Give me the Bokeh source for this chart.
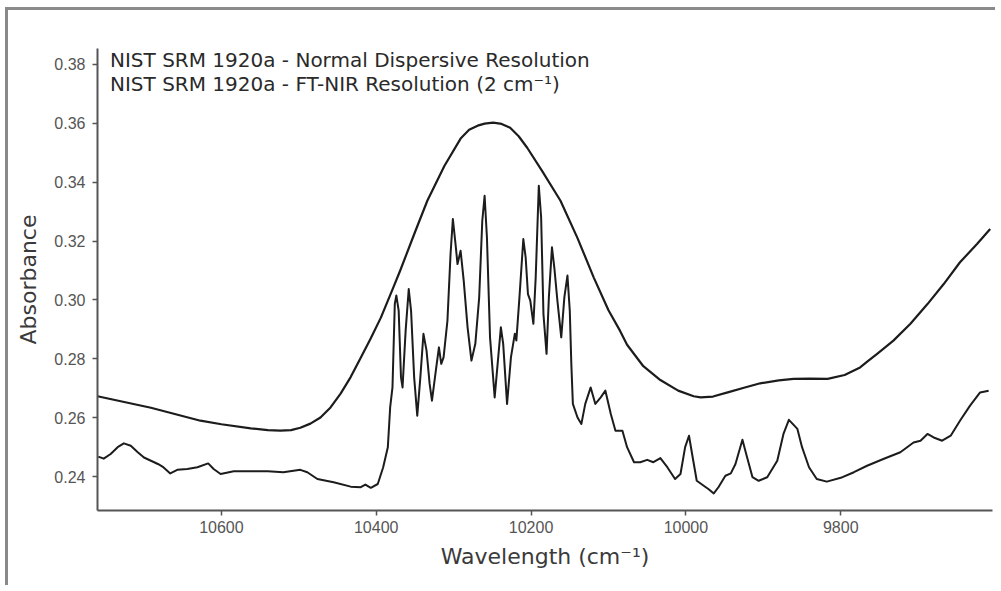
from bokeh.plotting import figure
from bokeh.models import Range1d, FixedTicker, Legend, LegendItem, NumeralTickFormatter
from bokeh.embed import file_html
from bokeh.resources import INLINE

# Normal dispersive resolution (smooth) spectrum
disp_wn = [10760, 10691, 10627, 10600, 10562, 10540, 10524, 10510, 10498, 10485,
           10472, 10459, 10446, 10433, 10420, 10407, 10394, 10378, 10369, 10350,
           10334, 10312, 10291, 10280, 10269, 10260, 10249, 10238, 10227, 10216,
           10205, 10185, 10162, 10140, 10119, 10100, 10085, 10076, 10055, 10033,
           10010, 9990, 9981, 9965, 9946, 9925, 9904, 9880, 9861, 9840,
           9817, 9795, 9775, 9765, 9753, 9732, 9710, 9688, 9667, 9646,
           9624, 9607]
disp_abs = [0.2673, 0.2634, 0.2590, 0.2578, 0.2564, 0.2558, 0.2556, 0.2558, 0.2566, 0.2580,
            0.2601, 0.2635, 0.2682, 0.2738, 0.2804, 0.2870, 0.2940, 0.3042, 0.3100, 0.3230,
            0.3337, 0.3455, 0.3548, 0.3578, 0.3592, 0.3599, 0.3602, 0.3598, 0.3585, 0.3556,
            0.3517, 0.3435, 0.3337, 0.3210, 0.3076, 0.2965, 0.2895, 0.2848, 0.2775, 0.2728,
            0.2692, 0.2673, 0.2669, 0.2672, 0.2686, 0.2702, 0.2717, 0.2727, 0.2732, 0.2733,
            0.2732, 0.2745, 0.2771, 0.2792, 0.2817, 0.2862, 0.2919, 0.2986, 0.3054, 0.3128,
            0.3190, 0.3241]

# FT-NIR resolution (2 cm-1) spectrum
ft_wn = [10759, 10752, 10743, 10734, 10726, 10717, 10708, 10700, 10691, 10682,
         10675, 10666, 10657, 10644, 10631, 10617, 10610, 10601, 10584, 10562,
         10540, 10520, 10498, 10489, 10476, 10455, 10433, 10420, 10414, 10407,
         10398, 10391, 10385, 10382, 10379, 10376, 10374, 10371, 10368, 10366,
         10362, 10358, 10355, 10351, 10347, 10343, 10339, 10335, 10331, 10328,
         10323, 10319, 10316, 10313, 10308, 10304, 10301, 10298, 10295, 10291,
         10287, 10282, 10277, 10272, 10267, 10263, 10260, 10257, 10253, 10247,
         10239, 10236, 10231, 10226, 10221, 10219, 10215, 10210, 10207, 10204,
         10201, 10197, 10194, 10190, 10187, 10184, 10180, 10177, 10173, 10170,
         10166, 10161, 10157, 10153, 10150, 10148, 10146, 10140, 10135, 10130,
         10123, 10117, 10110, 10104, 10097, 10091, 10082, 10076, 10067, 10059,
         10050, 10042, 10033, 10024, 10014, 10007, 10001, 9996, 9992, 9986,
         9977, 9971, 9964, 9958, 9949, 9942, 9936, 9927, 9921, 9914,
         9906, 9895, 9882, 9874, 9867, 9856, 9850, 9841, 9831, 9818,
         9800, 9783, 9766, 9745, 9723, 9706, 9697, 9688, 9680, 9669,
         9658, 9646, 9633, 9620, 9609]
ft_abs = [0.2468, 0.2461, 0.2477, 0.2500, 0.2513, 0.2505, 0.2483, 0.2465, 0.2454, 0.2443,
          0.2432, 0.2411, 0.2423, 0.2426, 0.2432, 0.2445, 0.2426, 0.2409, 0.2418, 0.2418,
          0.2418, 0.2415, 0.2423, 0.2415, 0.2392, 0.2381, 0.2366, 0.2364, 0.2373, 0.2362,
          0.2375, 0.2432, 0.2500, 0.2635, 0.2703, 0.2987, 0.3015, 0.2964, 0.2737, 0.2703,
          0.2896, 0.3037, 0.2964, 0.2737, 0.2607, 0.2737, 0.2885, 0.2828, 0.2715, 0.2658,
          0.2760, 0.2839, 0.2783, 0.2805, 0.2930, 0.3156, 0.3275, 0.3201, 0.3122, 0.3167,
          0.3066, 0.2907, 0.2794, 0.2851, 0.3009, 0.3269, 0.3354, 0.3213, 0.2873, 0.2669,
          0.2907, 0.2851, 0.2647, 0.2805, 0.2885, 0.2862, 0.3009, 0.3207, 0.3145, 0.3020,
          0.2998, 0.2919, 0.3077, 0.3388, 0.3281, 0.2952, 0.2817, 0.3009, 0.3179, 0.3111,
          0.2998, 0.2873, 0.3009, 0.3083, 0.2964, 0.2783, 0.2647, 0.2601, 0.2579, 0.2647,
          0.2703, 0.2647, 0.2669, 0.2692, 0.2613, 0.2556, 0.2556, 0.2500, 0.2449, 0.2449,
          0.2457, 0.2449, 0.2463, 0.2432, 0.2392, 0.2409, 0.2500, 0.2539, 0.2477, 0.2386,
          0.2369, 0.2358, 0.2343, 0.2364, 0.2403, 0.2411, 0.2443, 0.2525, 0.2466, 0.2398,
          0.2386, 0.2398, 0.2454, 0.2545, 0.2593, 0.2562, 0.2500, 0.2432, 0.2392, 0.2383,
          0.2396, 0.2415, 0.2437, 0.2460, 0.2483, 0.2516, 0.2522, 0.2545, 0.2533, 0.2522,
          0.2539, 0.2590, 0.2641, 0.2686, 0.2692]

x_ticks = [10600, 10400, 10200, 10000, 9800]
y_ticks = [0.24, 0.26, 0.28, 0.30, 0.32, 0.34, 0.36, 0.38]

legend_labels = ["NIST SRM 1920a - Normal Dispersive Resolution",
                 "NIST SRM 1920a - FT-NIR Resolution (2 cm\u207b\u00b9)"]

p = figure(width=990, height=578, output_backend="svg", toolbar_location=None,
           x_range=Range1d(10760, 9604), y_range=Range1d(0.2285, 0.3854),
           min_border_left=89, min_border_right=6, min_border_top=38, min_border_bottom=78)
p.styles = {"border-top": "3px solid #8a8a8a", "border-left": "3px solid #8a8a8a",
            "margin-left": "5px", "margin-top": "7px"}

line_color = "#1c1c1c"
r1 = p.line(disp_wn, disp_abs, line_width=2.2, line_color=line_color, line_join="round")
r2 = p.line(ft_wn, ft_abs, line_width=2.0, line_color=line_color, line_join="round")

p.grid.visible = False
p.outline_line_color = None
p.background_fill_color = "white"

for ax in (p.xaxis[0], p.yaxis[0]):
    ax.axis_line_color = "#555555"
    ax.axis_line_width = 2
    ax.major_tick_line_color = "#555555"
    ax.major_tick_line_width = 1.5
    ax.major_tick_in = 0
    ax.major_tick_out = 5
    ax.minor_tick_line_color = None
    ax.major_label_text_font = "Liberation Sans"
    ax.major_label_text_font_size = "16px"
    ax.major_label_text_color = "#555555"
    ax.axis_label_text_font = "DejaVu Sans"
    ax.axis_label_text_font_size = "22px"
    ax.axis_label_text_font_style = "normal"
    ax.axis_label_text_color = "#3a3a3a"

p.xaxis[0].ticker = FixedTicker(ticks=x_ticks)
p.xaxis[0].formatter = NumeralTickFormatter(format="0")
p.xaxis[0].axis_label = "Wavelength (cm\u207b\u00b9)"
p.xaxis[0].major_label_standoff = 5
p.xaxis[0].axis_label_standoff = 8

p.yaxis[0].ticker = FixedTicker(ticks=y_ticks)
p.yaxis[0].formatter = NumeralTickFormatter(format="0.00")
p.yaxis[0].axis_label = "Absorbance"
p.yaxis[0].major_label_standoff = 7
p.yaxis[0].axis_label_standoff = 10

legend = Legend(items=[LegendItem(label=legend_labels[0], renderers=[r1]),
                       LegendItem(label=legend_labels[1], renderers=[r2])],
                location=(13, 414), glyph_width=0, glyph_height=24, label_height=24,
                label_standoff=0, padding=0, margin=0, spacing=0,
                border_line_color=None, background_fill_alpha=0,
                label_text_font="DejaVu Sans", label_text_font_size="20px",
                label_text_color="#2a2a2a")
p.add_layout(legend)

open("out.html", "w").write(file_html(p, INLINE))
